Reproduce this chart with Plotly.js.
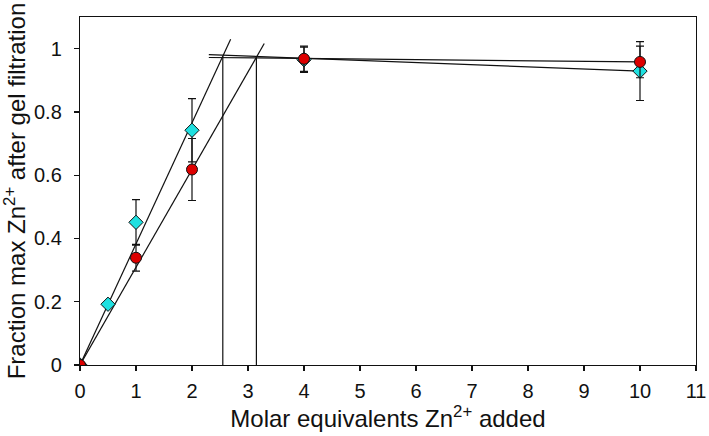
<!DOCTYPE html>
<html>
<head>
<meta charset="utf-8">
<script src="https://cdn.plot.ly/plotly-3.0.1.min.js"></script>
<style>
  html, body { margin: 0; padding: 0; background: #fff; }
  #chart { width: 709px; height: 436px; }
</style>
</head>
<body>
<div id="chart"></div>
<script>
// Zn2+ titration, fraction retained after gel filtration

// cyan diamonds
const eqCyan   = [0, 0.5, 1, 2, 4, 10];
const fracCyan = [0, 0.192, 0.451, 0.742, 0.965, 0.929];
const errCyan  = [0, 0, 0.072, 0.10, 0.04, 0.093];

// red circles
const eqRed   = [0, 1, 2, 4, 10];
const fracRed = [0, 0.339, 0.618, 0.968, 0.958];
const errRed  = [0, 0.042, 0.098, 0.04, 0.05];

// linear fits (rising part and plateau) for each series
const cyanRiseX = [0, 2.69], cyanRiseY = [0, 1.03];
const redRiseX  = [0, 3.29], redRiseY  = [0, 1.016];
const cyanFlatX = [2.3, 10], cyanFlatY = [0.981, 0.929];
const redFlatX  = [2.3, 10], redFlatY  = [0.972, 0.958];

// break points (intersection of the fits), dropped to the x axis
const breakX = [2.55, 3.15];
const breakY = [0.977, 0.971];

const FONT = 'Liberation Sans, Arial, sans-serif';
const black = '#111';

function fitLine(x, y) {
  return { x, y, mode: 'lines', line: { color: black, width: 1.2 }, hoverinfo: 'skip', showlegend: false };
}

const dropX = [], dropY = [];
breakX.forEach((bx, i) => { dropX.push(bx, bx, null); dropY.push(0, breakY[i], null); });

const traces = [
  fitLine(cyanRiseX, cyanRiseY),
  fitLine(redRiseX, redRiseY),
  fitLine(cyanFlatX, cyanFlatY),
  fitLine(redFlatX, redFlatY),
  fitLine(dropX, dropY),
  {
    x: eqCyan, y: fracCyan, mode: 'markers', showlegend: false,
    error_y: { type: 'data', array: errCyan, visible: true, color: black, thickness: 1.2, width: 4 },
    marker: { symbol: 'diamond', size: 11, color: '#1fe0e0', line: { color: black, width: 1 } }
  },
  {
    x: eqRed, y: fracRed, mode: 'markers', showlegend: false,
    error_y: { type: 'data', array: errRed, visible: true, color: black, thickness: 1.2, width: 4 },
    marker: { symbol: 'circle', size: 11, color: '#dd0000', line: { color: black, width: 1 } }
  }
];

const axisCommon = {
  showgrid: false, zeroline: false,
  showline: true, linecolor: black, linewidth: 1.2, mirror: true,
  ticks: 'outside', ticklen: 5, tickwidth: 1.2, tickcolor: black,
  tickfont: { family: FONT, size: 20, color: black }
};

const layout = {
  width: 709, height: 436,
  margin: { l: 80, r: 13, t: 17, b: 71 },
  paper_bgcolor: '#fff', plot_bgcolor: '#fff',
  xaxis: Object.assign({}, axisCommon, {
    range: [0, 11], tickvals: [0,1,2,3,4,5,6,7,8,9,10,11],
    ticklabelstandoff: 3,
    title: { text: 'Molar equivalents Zn<sup>2+</sup> added', font: { family: FONT, size: 24, color: black }, standoff: 4 }
  }),
  yaxis: Object.assign({}, axisCommon, {
    range: [0, 1.1], tickvals: [0, 0.2, 0.4, 0.6, 0.8, 1], ticktext: ['0','0.2','0.4','0.6','0.8','1'],
    ticklabelstandoff: 8,
    title: { text: 'Fraction max Zn<sup>2+</sup> after gel filtration', font: { family: FONT, size: 24, color: black }, standoff: 6 }
  })
};

Plotly.newPlot('chart', traces, layout, { displayModeBar: false, staticPlot: true });
</script>
</body>
</html>
